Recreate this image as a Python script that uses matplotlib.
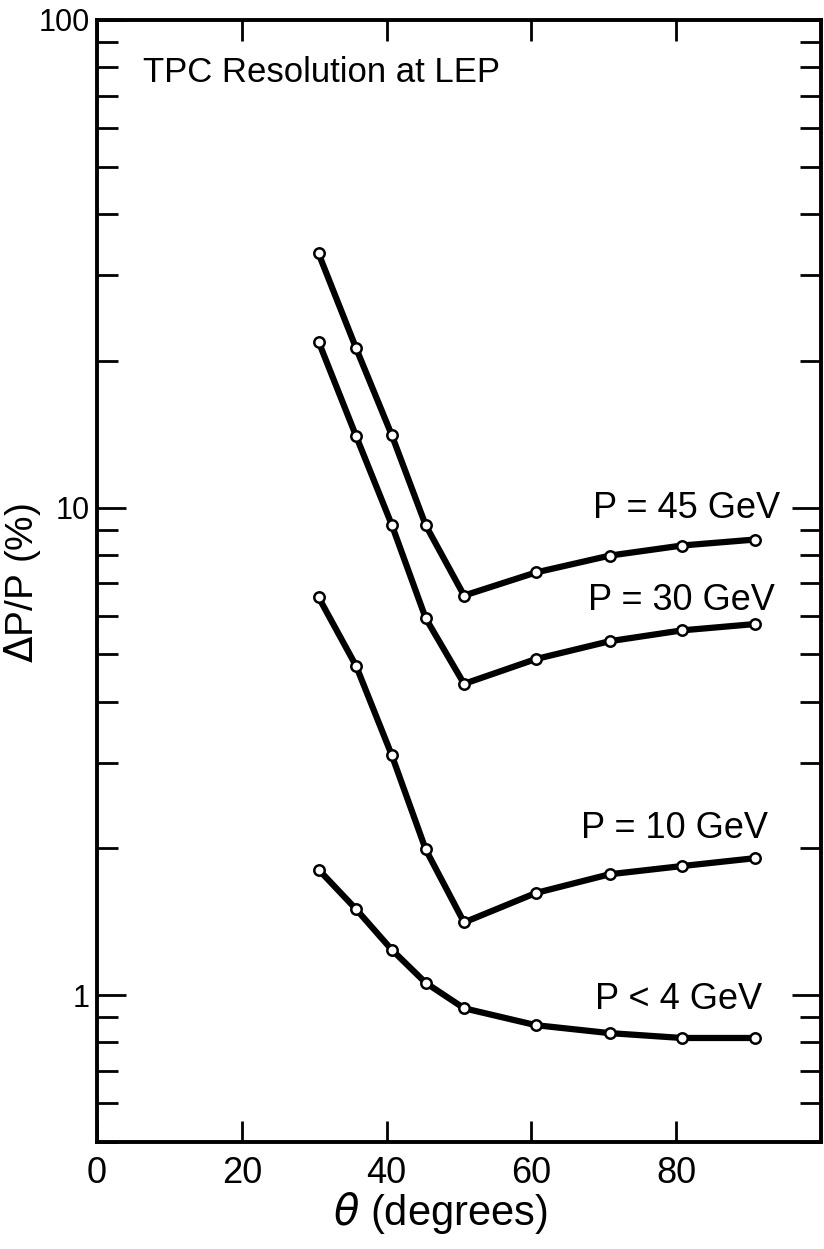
import matplotlib
matplotlib.use("Agg")
import matplotlib.pyplot as plt
from matplotlib.ticker import LogLocator, FuncFormatter, NullFormatter

# angle of each measured point (degrees)
theta = [30.6, 35.8, 40.7, 45.4, 50.7, 60.6, 70.8, 80.8, 90.9]

# momentum resolution dP/P (%) for each beam momentum
res_45 = [33.2, 21.2, 14.1, 9.2, 6.6, 7.36, 7.97, 8.36, 8.6]
res_30 = [21.9, 14.0, 9.23, 5.93, 4.35, 4.89, 5.32, 5.6, 5.77]
res_10 = [6.55, 4.73, 3.11, 1.99, 1.41, 1.62, 1.77, 1.84, 1.91]
res_4 = [1.81, 1.50, 1.24, 1.06, 0.94, 0.868, 0.836, 0.817, 0.817]

series = [res_45, res_30, res_10, res_4]
labels = ["P = 45 GeV", "P = 30 GeV", "P = 10 GeV", "P < 4 GeV"]
label_pos = [(94.3, 9.95), (93.6, 6.45), (92.7, 2.2), (91.8, 0.98)]

plt.rcParams["font.family"] = ["Liberation Sans", "DejaVu Sans"]

fig = plt.figure(figsize=(8.24, 12.49), dpi=100)
ax = fig.add_axes([0.1177, 0.0857, 0.8787, 0.8983])

for vals in series:
    ax.plot(theta, vals, color="black", lw=4.5, solid_capstyle="round",
            solid_joinstyle="round", zorder=2)
    ax.plot(theta, vals, "o", ms=7.5, mfc="white", mec="black", mew=1.8,
            zorder=3)

for txt, (x, y) in zip(labels, label_pos):
    ax.text(x, y, txt, ha="right", va="center", fontsize=26)

ax.text(6.3, 78, "TPC Resolution at LEP", ha="left", va="center",
        fontsize=25)

ax.set_yscale("log")
ax.set_xlim(0, 100)
ax.set_ylim(0.5, 100)

ax.set_xticks([0, 20, 40, 60, 80])
ax.yaxis.set_major_locator(LogLocator(base=10))
ax.yaxis.set_minor_locator(LogLocator(base=10, subs=range(2, 10)))
ax.yaxis.set_major_formatter(FuncFormatter(lambda v, p: "%g" % v))
ax.yaxis.set_minor_formatter(NullFormatter())

ax.tick_params(axis="x", which="major", direction="in", length=15, width=2,
               top=True, labelsize=26, pad=10)
ax.tick_params(axis="y", which="major", direction="in", length=21, width=2,
               right=True, labelsize=22, pad=5)
ax.tick_params(axis="y", which="minor", direction="in", length=15, width=2,
               right=True)

for sp in ax.spines.values():
    sp.set_linewidth(2.8)

ax.set_xlabel(r"$\theta$ (degrees)", fontsize=30)
ax.xaxis.set_label_coords(0.474, -0.043)
ax.set_ylabel(r"$\Delta$P/P (%)", fontsize=28)
ax.yaxis.set_label_coords(-0.074, 0.498)

fig.savefig("out.png", dpi=100)
